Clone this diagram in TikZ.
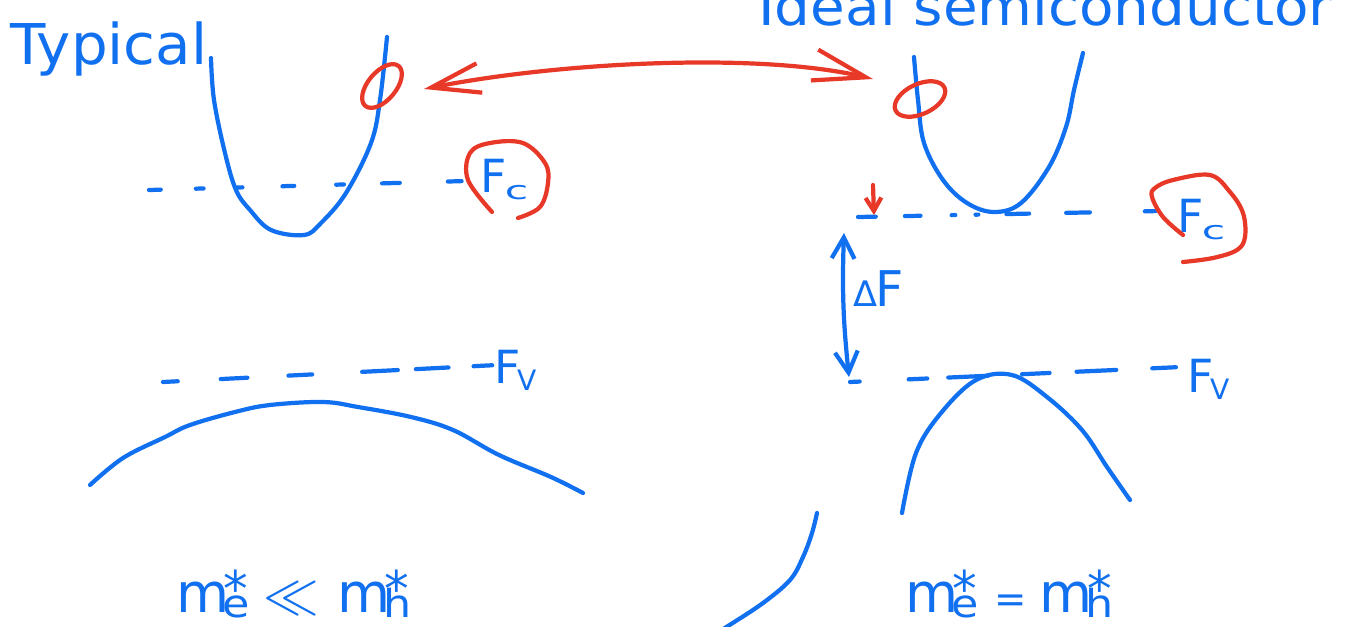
\documentclass[tikz,border=0pt]{standalone}
\usepackage{graphicx}
\usepackage{fontspec}
\setmainfont{DejaVu Sans}
\usetikzlibrary{arrows.meta,shapes.geometric}
\definecolor{pen}{RGB}{16,112,240}
\definecolor{redpen}{RGB}{232,56,40}
\newcommand\myfs[1]{\fontsize{#1}{#1}\selectfont}
\newcommand\FlabC{{\myfs{26}F}\kern-1pt\raisebox{-4pt}{\scalebox{1.35}[0.8]{\myfs{18}c}}}
\newcommand\FlabV{{\myfs{26}F}\kern-2pt{\myfs{16}\raisebox{-4.5pt}{V}}}
\newcommand\mstar[1]{{\myfs{31}m}\kern-4pt\raisebox{-3pt}{\scalebox{1.15}[1]{\myfs{22}#1}}\kern-15pt\raisebox{3pt}{\myfs{28}*}}
\begin{document}
\begin{tikzpicture}[x=0.02cm,y=-0.02cm,line cap=round,line join=round,
  bline/.style={pen,line width=2.4pt},
  rline/.style={redpen,line width=2.4pt},
  lbl/.style={pen,inner sep=0pt,anchor=base west},
  ring/.style={draw=redpen,line width=2.4pt,ellipse,inner sep=0pt},
  dbarb/.style={{Straight Barb[length=12pt,width=13pt]}-{Straight Barb[length=12pt,width=13pt]}}]
\useasboundingbox (0,0) rectangle (1353,626);
\fill[white] (0,0) rectangle (1353,626);

% titles
\node[lbl] (typ) at (10,64) {\scalebox{1.03}[1]{\myfs{32}Typical}};
\node[lbl] (ideal) at (758,25) {\scalebox{1.07}[1]{\myfs{30}Ideal semiconductor}};

% left bands
\draw[bline] plot[smooth,tension=0.6] coordinates {(211,58) (214,100) (225,153) (236,190) (250,210) (271,230) (304,235) (321,223) (346,193) (371,143) (380,100) (387,37)};
\draw[bline] plot[smooth,tension=0.6] coordinates {(90,485) (123,458) (165,437) (190,425) (235,412) (270,405) (323,402) (358,407) (411,417) (453,430) (499,455) (551,477) (583,493)};
\draw[bline,dash pattern=on 6.7pt off 20pt on 4.4pt off 18.8pt on 3.3pt off 22.8pt on 6.7pt off 23.9pt on 4.4pt off 21.7pt on 10.1pt off 27.4pt on 7.8pt off 40pt] (149,190) -- (466,181);
\draw[bline,dash pattern=on 8.4pt off 24.5pt on 15.2pt off 23.4pt on 13.5pt off 28.5pt on 20.3pt off 10.3pt on 18.6pt off 14.3pt on 10.6pt off 40pt] (163,382) -- (497,365);
\node[lbl] (fcl) at (480,192) {\FlabC};
\node[lbl] (fvl) at (494,383) {\FlabV};
\draw[rline] plot[smooth,tension=0.6] coordinates {(492,212) (468,180) (470,153) (490,143) (523,143) (545,163) (548,183) (540,207) (518,218)};

% right bands
\draw[bline] plot[smooth,tension=0.6] coordinates {(914,57) (918,100) (924,143) (943,180) (967,203) (994,212) (1021,203) (1049,167) (1066,127) (1074,90) (1083,53)};
\draw[bline] plot[smooth,tension=0.6] coordinates {(902,513) (916,453) (941,413) (976,380) (1012,375) (1047,397) (1082,430) (1107,467) (1130,500)};
\draw[bline,dash pattern=on 10.1pt off 16.6pt on 8.9pt off 17.7pt on 2.1pt off 11.5pt on 1.6pt off 16pt on 12.9pt off 21.1pt on 13.5pt off 31.3pt on 6.1pt off 40pt] (858,217) -- (1160,211);
\draw[bline,dash pattern=on 5.5pt off 27.9pt on 10.6pt off 12pt on 22.6pt off 19.4pt on 15.7pt off 15.4pt on 22.6pt off 20.5pt on 13.5pt off 40pt] (850,382) -- (1181,367);
\node[lbl] (fcr) at (1177,232) {\FlabC};
\node[lbl] (fvr) at (1187,392) {\FlabV};
\draw[rline] plot[smooth,tension=0.6] coordinates {(1183,235) (1163,217) (1152,197) (1155,188) (1173,180) (1210,175) (1230,192) (1243,213) (1245,237) (1237,250) (1213,258) (1183,262)};

% gap arrow
\coordinate (dtop) at (844,233);
\coordinate (dbot) at (849,377);
\draw[bline,dbarb] (dtop) to[bend right=4] (dbot);
\node[lbl] (dF) at (853,306) {{\myfs{20}Δ}\kern-1pt{\myfs{28}F}};

% red marks
\node[ring,minimum width=1.04cm,minimum height=0.56cm,rotate=50] (lE) at (382,86) {};
\node[ring,minimum width=1.08cm,minimum height=0.6cm,rotate=25] (rE) at (920,99) {};
\coordinate (la) at (424,89);
\coordinate (ra) at (873,79);
\draw[rline,{Straight Barb[length=28pt,width=17pt]}-{Straight Barb[length=30pt,width=18pt]}] (la) .. controls (560,62) and (760,52) .. (ra);
\coordinate (sa) at (873,185);
\coordinate (sb) at (874,215);
\draw[rline,-{Straight Barb[length=7.5pt,width=9pt]}] (sa) -- (sb);

% stray stroke
\draw[bline] plot[smooth,tension=0.6] coordinates {(817,513) (812,533) (803,557) (790,580) (763,603) (728,626) (718,632)};

% mass relations
\node[lbl] (mL) at (176,612) {\mstar{e}\kern9pt\scalebox{2.2}{\myfs{14}$\ll$}\kern10pt\mstar{h}};
\node[lbl] (mR) at (905,612) {\mstar{e}\kern10pt{\myfs{22}=}\kern7pt\mstar{h}};
\end{tikzpicture}
\end{document}
